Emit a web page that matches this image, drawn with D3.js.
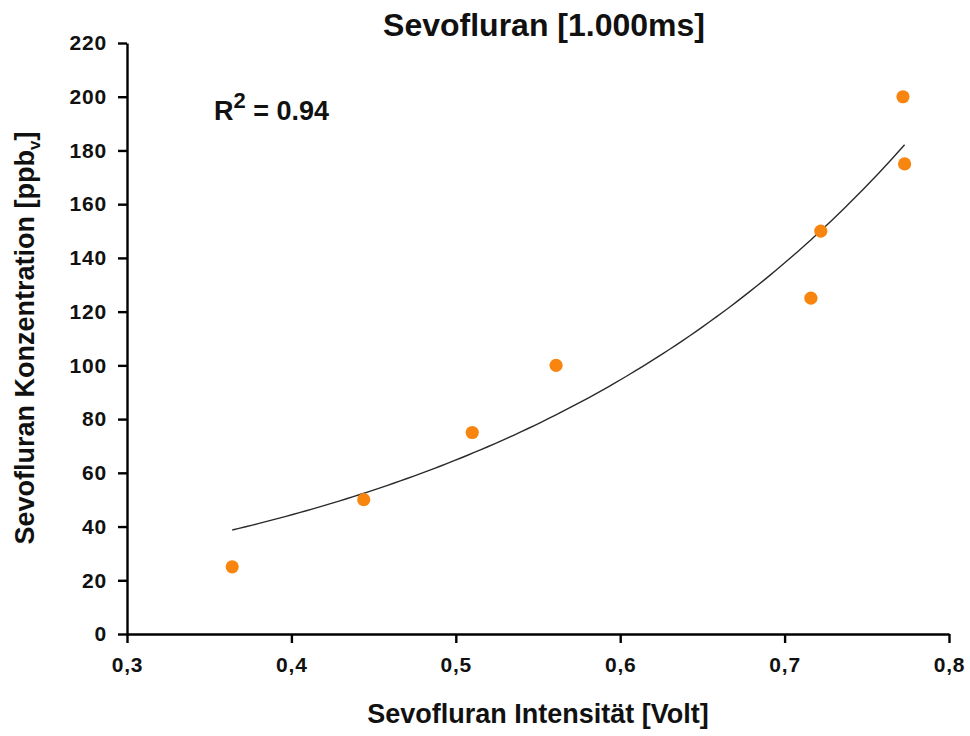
<!DOCTYPE html>
<html>
<head>
<meta charset="utf-8">
<script src="https://cdn.jsdelivr.net/npm/d3@7"></script>
<style>
  html, body { margin: 0; padding: 0; background: #ffffff; }
  svg { display: block; font-family: "Liberation Sans", Arial, sans-serif; }
</style>
</head>
<body>
<svg id="chart" width="970" height="736"></svg>
<script>
// Measured signal intensity (V) and the matching concentration (ppb_v)
const intensity     = [0.364, 0.444, 0.510, 0.561, 0.716, 0.722, 0.772, 0.773];
const concentration = [25, 50, 75, 100, 125, 150, 200, 175];

// Axis ticks
const xTicks = [0.3, 0.4, 0.5, 0.6, 0.7, 0.8];
const yTicks = [0, 20, 40, 60, 80, 100, 120, 140, 160, 180, 200, 220];

// Exponential trend line y = a * exp(b * x) and its reported fit quality
const fitA = 9.75;
const fitB = 3.787;
const fitRange = [0.364, 0.773];
const rSquared = "0.94";

const svg = d3.select("#chart");

const x = d3.scaleLinear().domain([0.3, 0.8]).range([127, 949]);
const y = d3.scaleLinear().domain([0, 220]).range([634, 43]);

const comma = v => d3.format(".1f")(v).replace(".", ",");

// Y axis
const yAxis = svg.append("g")
  .attr("transform", `translate(${x(0.3)},0)`)
  .call(d3.axisLeft(y).tickValues(yTicks).tickSize(9).tickPadding(11).tickSizeOuter(0));

// X axis
const xAxis = svg.append("g")
  .attr("transform", `translate(0,${y(0)})`)
  .call(d3.axisBottom(x).tickValues(xTicks).tickFormat(comma).tickSize(9).tickPadding(14).tickSizeOuter(0));

[xAxis, yAxis].forEach(g => {
  g.select(".domain").attr("stroke", "#000").attr("stroke-width", 2.4);
  g.selectAll(".tick line").attr("stroke", "#000").attr("stroke-width", 2.4);
  g.selectAll(".tick text")
    .attr("fill", "#111")
    .attr("font-size", 21)
    .attr("letter-spacing", 0.8)
    .attr("font-weight", "bold")
    .attr("font-family", "'Liberation Sans', Arial, sans-serif");
});

// Trend line
const fitX = d3.range(0, 101).map(i => fitRange[0] + (fitRange[1] - fitRange[0]) * i / 100);
svg.append("path")
  .datum(fitX)
  .attr("fill", "none")
  .attr("stroke", "#2a2a2a")
  .attr("stroke-width", 1.4)
  .attr("d", d3.line().x(d => x(d)).y(d => y(fitA * Math.exp(fitB * d))));

// Measurement points
svg.append("g").selectAll("circle")
  .data(intensity.map((v, i) => ({ v, c: concentration[i] })))
  .join("circle")
  .attr("cx", d => x(d.v))
  .attr("cy", d => y(d.c))
  .attr("r", 6.6)
  .attr("fill", "#f8850f");

// Title
svg.append("text")
  .attr("x", 544).attr("y", 36)
  .attr("text-anchor", "middle")
  .attr("font-size", 32).attr("font-weight", "bold").attr("fill", "#111")
  .text("Sevofluran [1.000ms]");

// R² annotation
const r2 = svg.append("text")
  .attr("x", 214).attr("y", 120)
  .attr("font-size", 27).attr("font-weight", "bold").attr("fill", "#111");
r2.append("tspan").text("R");
r2.append("tspan").attr("font-size", 22).attr("dy", -12).text("2");
r2.append("tspan").attr("dy", 12).text(" = " + rSquared);

// X axis title
svg.append("text")
  .attr("x", 538).attr("y", 723)
  .attr("text-anchor", "middle")
  .attr("font-size", 27).attr("font-weight", "bold").attr("fill", "#111")
  .text("Sevofluran Intensität [Volt]");

// Y axis title
const yl = svg.append("text")
  .attr("transform", "translate(34,338) rotate(-90)")
  .attr("text-anchor", "middle")
  .attr("font-size", 27).attr("font-weight", "bold").attr("fill", "#111");
yl.append("tspan").text("Sevofluran Konzentration [ppb");
yl.append("tspan").attr("font-size", 17).attr("dy", 6).text("v");
yl.append("tspan").attr("dy", -6).text("]");
</script>
</body>
</html>
